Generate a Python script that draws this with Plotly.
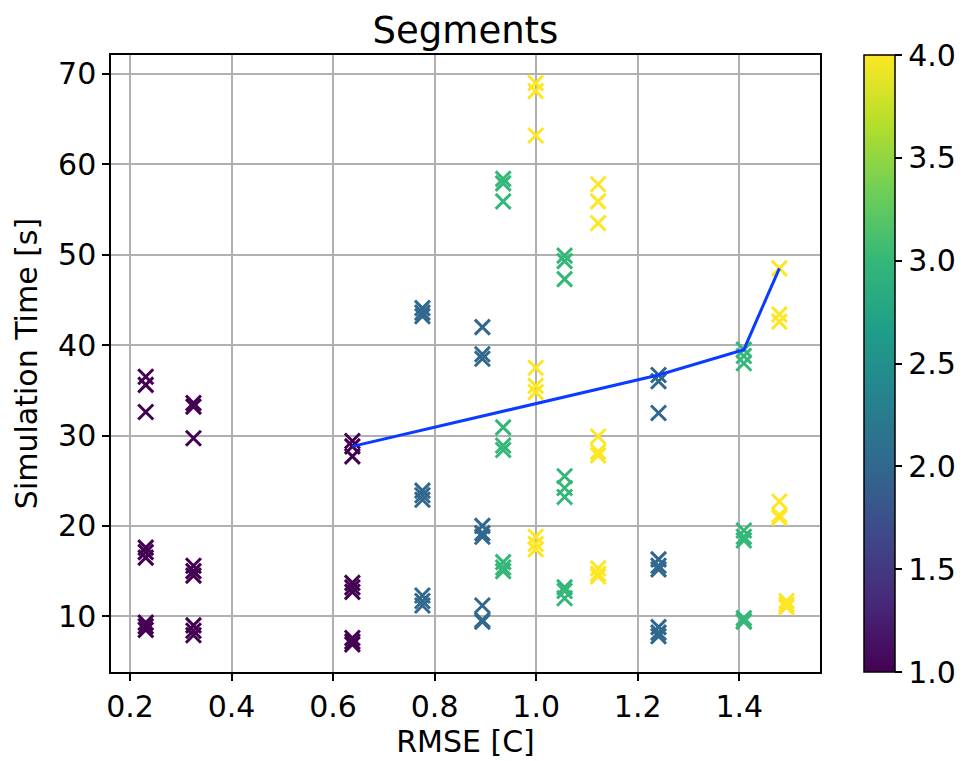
import plotly.graph_objects as go

# RMSE of each configuration (one entry per cluster of repeated runs)
cluster_rmse = [0.231, 0.325, 0.638,
                0.776, 0.894, 1.241,
                0.935, 1.056, 1.409,
                0.999, 1.122, 1.479, 1.493]

# Number of segments used by each configuration
cluster_segments = [1, 1, 1,
                    2, 2, 2,
                    3, 3, 3,
                    4, 4, 4, 4]

# Simulation times [s] of the runs belonging to each configuration
cluster_times = [
    [36.5, 35.6, 32.6, 17.6, 17.1, 16.5, 9.3, 8.9, 8.5],
    [33.6, 33.2, 29.7, 15.6, 15.0, 14.5, 9.0, 8.4, 7.9],
    [29.4, 28.8, 27.7, 13.7, 13.2, 12.7, 7.6, 7.2, 6.9],
    [44.1, 43.6, 43.2, 23.9, 23.4, 22.9, 12.3, 11.7, 11.2],
    [42.0, 39.0, 38.5, 20.0, 19.2, 18.8, 11.2, 9.6, 9.4],
    [36.7, 36.0, 32.5, 16.3, 15.6, 15.2, 8.8, 8.2, 7.8],
    [58.4, 57.9, 55.9, 30.9, 28.9, 28.4, 16.0, 15.4, 15.0],
    [49.9, 49.3, 47.3, 25.5, 24.2, 23.2, 13.2, 12.8, 12.0],
    [39.5, 38.8, 38.0, 19.5, 18.8, 18.4, 9.8, 9.5, 9.4],
    [69.0, 68.1, 63.2, 37.5, 35.5, 34.8, 18.8, 18.0, 17.4],
    [57.8, 55.9, 53.5, 29.9, 28.2, 27.8, 15.3, 14.7, 14.4],
    [48.5, 43.4, 42.6, 22.7, 21.2, 20.9],
    [11.7, 11.3, 11.0],
]

# Trade-off curve through selected runs
front_rmse = [0.638, 1.241, 1.409, 1.479]
front_time = [28.8, 36.7, 39.5, 48.5]

# flatten into per-run arrays
rmse, sim_time, segments = [], [], []
for r, s, ts in zip(cluster_rmse, cluster_segments, cluster_times):
    for t in ts:
        rmse.append(r)
        sim_time.append(t)
        segments.append(s)

FONT = "DejaVu Sans"
W, H = 966, 761
ML, MR, MT, MB = 111, 146, 55, 89
plot_w = W - ML - MR

fig = go.Figure()
fig.add_trace(go.Scatter(
    x=rmse, y=sim_time, mode="markers",
    marker=dict(
        symbol="x-thin-open", size=15,
        color=segments, colorscale="Viridis", cmin=1, cmax=4,
        line=dict(width=3),
        showscale=True,
        colorbar=dict(
            x=(864 - ML) / plot_w, xanchor="left", xpad=0,
            y=0.5, yanchor="middle", len=1, lenmode="fraction", ypad=0,
            thickness=31, outlinewidth=1.5, outlinecolor="black",
            ticks="outside", ticklen=7, tickwidth=1.5, tickcolor="black",
            tickvals=[1.0, 1.5, 2.0, 2.5, 3.0, 3.5, 4.0], tickformat=".1f",
            tickfont=dict(family=FONT, size=30, color="black"),
        ),
    ),
    showlegend=False, hoverinfo="x+y",
))
fig.add_trace(go.Scatter(
    x=front_rmse, y=front_time, mode="lines",
    line=dict(color="#0a3cff", width=3),
    showlegend=False,
))

axis_common = dict(
    showgrid=True, gridcolor="#b0b0b0", gridwidth=1.5,
    showline=True, linecolor="black", linewidth=1.5, mirror=True,
    ticks="outside", ticklen=7, tickwidth=1.5, tickcolor="black",
    tickfont=dict(family=FONT, size=30, color="black"),
    zeroline=False, automargin=False,
)

fig.update_layout(
    width=W, height=H,
    margin=dict(l=ML, r=MR, t=MT, b=MB, autoexpand=False),
    paper_bgcolor="white", plot_bgcolor="white",
    title=dict(text="Segments", x=0.5, xref="paper", xanchor="center",
               y=1 - 30 / H, yref="container", yanchor="middle",
               font=dict(family=FONT, size=37, color="black")),
    xaxis=dict(range=[0.1626, 1.559], tick0=0.2, dtick=0.2, tickformat=".1f",
               title=dict(text="RMSE [C]", standoff=6,
                          font=dict(family=FONT, size=30, color="black")),
               **axis_common),
    yaxis=dict(range=[3.84, 72.1], tick0=10, dtick=10,
               title=dict(text="Simulation Time [s]", standoff=12,
                          font=dict(family=FONT, size=30, color="black")),
               **axis_common),
)

fig.write_html("out.html")
